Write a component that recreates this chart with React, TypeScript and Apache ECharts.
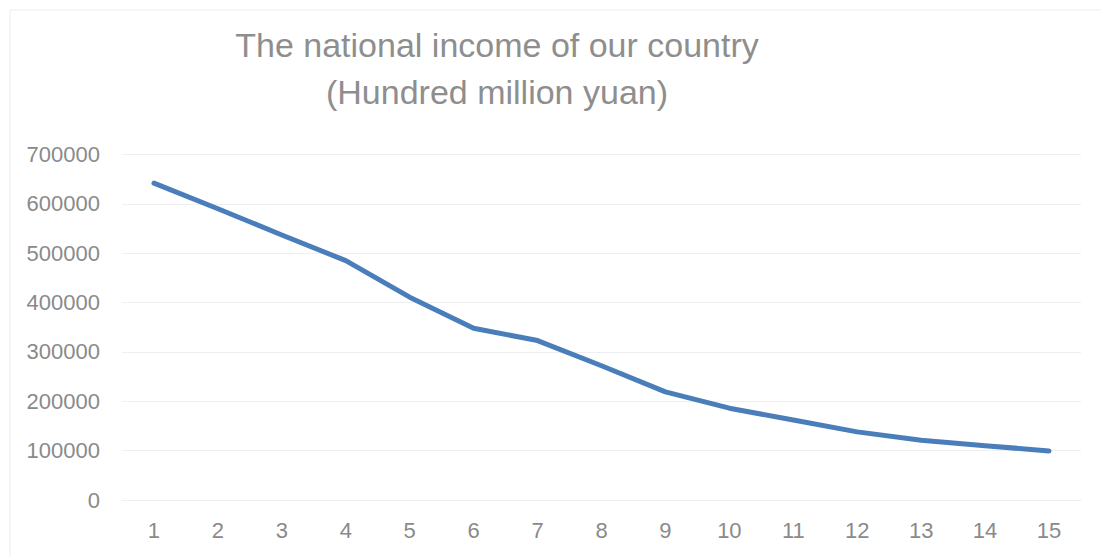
import React, { useEffect, useRef } from "react";
import * as echarts from "echarts";

const titleLines = ["The national income of our country", "(Hundred million yuan)"];
const categories = ["1", "2", "3", "4", "5", "6", "7", "8", "9", "10", "11", "12", "13", "14", "15"];
const incomeValues = [642000, 590000, 537000, 485000, 411000, 348000, 323000, 272000, 219000, 186000, 162000, 138000, 121000, 110000, 99500];
const yMin = 0;
const yMax = 700000;
const yStep = 100000;

export default function App() {
  const ref = useRef<HTMLDivElement>(null);
  useEffect(() => {
    if (!ref.current) return;
    const chart = echarts.init(ref.current, undefined, { renderer: "svg" });
    const font = "'Liberation Sans', Arial, sans-serif";
    chart.setOption({
      animation: false,
      backgroundColor: "#ffffff",
      title: {
        text: titleLines.join("\n"),
        left: 497,
        top: 21,
        padding: 0,
        textAlign: "center",
        textStyle: {
          fontFamily: font,
          fontSize: 34,
          fontWeight: "normal",
          color: "#8e8e8e",
          lineHeight: 47,
        },
      },
      graphic: [
        {
          type: "rect",
          shape: { x: 10, y: 10, width: 1200, height: 700 },
          style: { fill: "none", stroke: "#ececec", lineWidth: 1 },
          silent: true,
          z: -1,
        },
      ],
      grid: { left: 122, right: 20, top: 154.5, bottom: 57, containLabel: false },
      xAxis: {
        type: "category",
        data: categories,
        boundaryGap: true,
        axisLine: { show: true, lineStyle: { color: "#efefef", width: 1 } },
        axisTick: { show: false },
        axisLabel: { color: "#8a8a8a", fontFamily: font, fontSize: 22, margin: 19 },
        splitLine: { show: false },
      },
      yAxis: {
        type: "value",
        min: yMin,
        max: yMax,
        interval: yStep,
        axisLine: { show: false },
        axisTick: { show: false },
        axisLabel: {
          color: "#8a8a8a",
          fontFamily: font,
          fontSize: 22,
          margin: 22,
          formatter: (v: number) => String(v),
        },
        splitLine: { show: true, lineStyle: { color: "#efefef", width: 1 } },
      },
      series: [
        {
          type: "line",
          data: incomeValues,
          symbol: "none",
          smooth: false,
          lineStyle: { color: "#4a7ebb", width: 5, cap: "round", join: "round" },
        },
      ],
    });
    return () => chart.dispose();
  }, []);
  return (
    <div
      ref={ref}
      style={{ position: "fixed", left: 0, top: 0, width: 1101, height: 557, background: "#fff" }}
    />
  );
}
